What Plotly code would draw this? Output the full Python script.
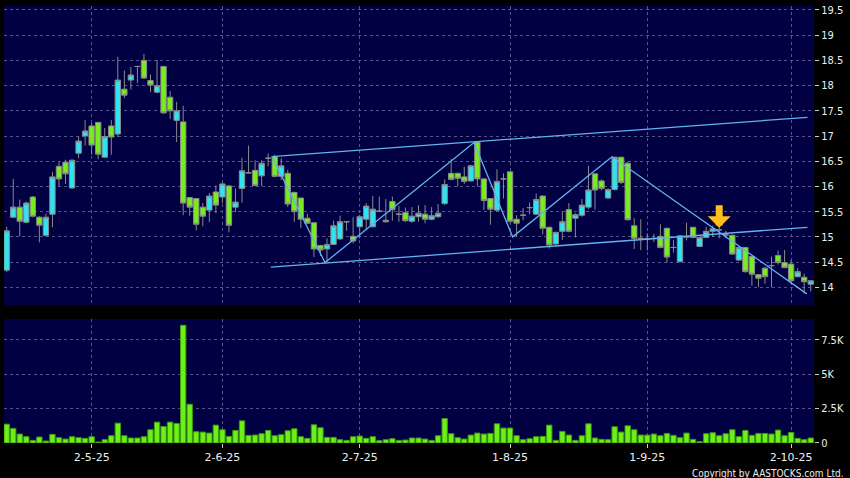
import plotly.graph_objects as go

# ---- data ----
opens = [14.34, 15.39, 15.59, 15.29, 15.79, 15.39, 15.03, 15.45, 16.40, 16.48,
         15.97, 16.66, 17.00, 17.20, 17.27, 16.58, 17.20, 17.04, 17.93, 18.11,
         18.38, 18.50, 18.10, 17.87, 18.38, 17.77, 17.31, 17.28, 15.78, 15.76,
         15.59, 15.53, 15.89, 15.79, 16.01, 15.59, 15.96, 16.27, 16.32, 16.21,
         16.56, 16.59, 16.20, 16.26, 15.88, 15.77, 15.37, 15.28, 14.83, 14.76,
         14.85, 14.96, 15.30, 15.01, 15.20, 15.35, 15.20, 15.51, 15.30, 15.70,
         15.45, 15.48, 15.31, 15.40, 15.45, 15.35, 15.40, 15.66, 16.26, 16.26,
         16.19, 16.11, 16.88, 16.15, 15.76, 15.53, 16.15, 16.29, 15.35, 15.43,
         15.58, 15.45, 15.81, 15.19, 14.86, 15.11, 15.54, 15.37, 15.43, 15.59,
         16.25, 16.11, 15.77, 15.94, 16.58, 16.46, 15.22, 14.97, 14.96, 14.97,
         15.01, 15.17, 14.79, 14.51, 15.00, 15.19, 14.81, 14.99, 15.11, 15.14,
         15.04, 15.03, 14.54, 14.79, 14.61, 14.25, 14.38, 14.43, 14.63, 14.49,
         14.46, 14.21, 14.20, 14.06]
highs = [15.20, 16.15, 15.74, 15.70, 15.81, 15.41, 15.46, 16.29, 16.48, 16.53,
         16.54, 16.99, 17.32, 17.26, 17.28, 17.16, 17.32, 18.57, 18.30, 18.37,
         18.39, 18.63, 18.22, 18.51, 18.38, 17.89, 17.68, 17.60, 15.78, 15.76,
         15.67, 15.87, 16.02, 16.08, 16.03, 15.96, 16.57, 16.81, 16.52, 16.52,
         16.65, 16.63, 16.56, 16.33, 15.90, 15.78, 15.46, 15.28, 14.84, 14.97,
         15.32, 15.42, 15.31, 15.39, 15.44, 15.67, 15.81, 15.80, 15.75, 15.80,
         15.62, 15.58, 15.59, 15.63, 15.63, 15.59, 15.65, 16.14, 16.54, 16.27,
         16.39, 16.43, 16.90, 16.16, 15.77, 16.34, 16.26, 16.30, 15.43, 15.57,
         15.68, 15.86, 15.82, 15.20, 15.10, 15.50, 15.67, 15.47, 15.75, 16.41,
         16.26, 16.14, 15.96, 16.59, 16.59, 16.49, 15.37, 15.35, 15.07, 15.06,
         15.25, 15.18, 14.94, 15.04, 15.28, 15.20, 15.00, 15.20, 15.22, 15.27,
         15.12, 15.05, 14.80, 14.80, 14.62, 14.26, 14.40, 14.61, 14.73, 14.74,
         14.54, 14.38, 14.27, 14.14]
lows = [14.30, 15.37, 15.01, 15.27, 15.39, 14.89, 15.01, 15.19, 16.00, 16.05,
        15.96, 16.56, 16.81, 16.63, 16.54, 16.58, 16.63, 16.98, 17.75, 17.92,
        18.05, 18.13, 17.87, 17.85, 17.44, 17.34, 16.88, 15.43, 15.42, 15.13,
        15.21, 15.29, 15.47, 15.67, 15.09, 15.49, 15.68, 16.26, 16.00, 16.01,
        16.40, 16.18, 16.13, 15.59, 15.30, 15.18, 15.26, 14.60, 14.62, 14.49,
        14.84, 14.94, 15.12, 14.87, 14.97, 15.14, 15.19, 15.49, 15.28, 15.32,
        15.30, 15.30, 15.28, 15.30, 15.27, 15.33, 15.38, 15.63, 16.12, 16.00,
        16.05, 16.10, 16.00, 15.53, 15.24, 15.50, 15.76, 15.27, 15.00, 15.33,
        15.45, 15.43, 15.05, 14.77, 14.84, 14.94, 15.09, 14.99, 15.40, 15.55,
        15.54, 15.92, 15.75, 15.92, 16.05, 15.32, 14.76, 14.74, 14.73, 14.90,
        14.77, 14.49, 14.69, 14.49, 14.93, 14.97, 14.80, 14.98, 15.00, 14.97,
        14.98, 14.64, 14.52, 14.29, 14.03, 14.00, 14.07, 14.00, 14.45, 14.38,
        14.07, 14.20, 13.88, 13.92]
closes = [15.12, 15.59, 15.31, 15.67, 15.41, 15.23, 15.39, 16.19, 16.15, 16.25,
          16.52, 16.90, 17.10, 16.82, 16.64, 16.99, 16.98, 18.11, 17.81, 18.21,
          18.38, 18.15, 18.01, 18.00, 17.46, 17.50, 17.50, 15.67, 15.59, 15.25,
          15.41, 15.81, 15.63, 16.05, 15.23, 15.69, 16.31, 16.27, 16.02, 16.46,
          16.56, 16.20, 16.41, 15.65, 15.50, 15.35, 15.27, 14.76, 14.74, 14.85,
          15.22, 15.30, 15.30, 14.92, 15.40, 15.61, 15.55, 15.51, 15.33, 15.54,
          15.45, 15.32, 15.41, 15.47, 15.35, 15.42, 15.47, 16.04, 16.14, 16.16,
          16.10, 16.41, 16.15, 15.72, 15.55, 16.10, 16.15, 15.31, 15.27, 15.43,
          15.58, 15.74, 15.17, 14.84, 15.09, 15.30, 15.11, 15.44, 15.63, 15.93,
          15.93, 15.96, 15.94, 16.58, 16.08, 15.34, 14.97, 14.97, 14.96, 14.97,
          14.79, 14.60, 14.79, 15.02, 15.00, 14.99, 14.99, 15.11, 15.16, 15.14,
          15.04, 14.66, 14.79, 14.31, 14.26, 14.18, 14.21, 14.43, 14.49, 14.39,
          14.13, 14.31, 14.11, 14.13]
volumes = [1370, 1058, 649, 457, 192, 433, 144, 625, 385, 288,
           457, 385, 337, 457, 72, 240, 529, 1442, 529, 361,
           361, 457, 962, 1515, 1202, 1515, 1418, 8550, 2813, 817,
           793, 721, 1298, 962, 481, 914, 1611, 553, 577, 673,
           914, 529, 601, 890, 1034, 457, 337, 1322, 1106, 409,
           409, 240, 192, 457, 505, 337, 457, 168, 240, 312,
           192, 216, 361, 361, 288, 192, 529, 1779, 673, 385,
           288, 577, 721, 649, 697, 1394, 1082, 1082, 529, 240,
           312, 457, 481, 1298, 192, 841, 577, 192, 529, 1394,
           361, 264, 240, 1178, 793, 1250, 962, 577, 577, 649,
           529, 697, 553, 385, 721, 264, 96, 673, 745, 529,
           673, 962, 457, 914, 553, 697, 697, 649, 938, 529,
           769, 337, 240, 361]
day_index = list(range(len(opens)))

tick_idx = [13, 33, 54, 77, 98, 120]
tick_text = ["2-5-25", "2-6-25", "2-7-25", "1-8-25", "1-9-25", "2-10-25"]
price_ticks = [14, 14.5, 15, 15.5, 16, 16.5, 17, 17.5, 18, 18.5, 19, 19.5]
vol_ticks = [0, 2500, 5000, 7500]
vol_tick_text = ["0", "2.5K", "5K", "7.5K"]

upper_channel_x = [40.5, 122.5]
upper_channel_y = [16.59, 17.37]
lower_channel_x = [40.4, 122.5]
lower_channel_y = [14.40, 15.19]
zigzag_x = [40.7, 48.7, 71.5, 77.4, 92.6, 122.4]
zigzag_y = [16.56, 14.49, 16.87, 15.00, 16.59, 13.87]
signal_idx = 109
signal_price = 15.18

# ---- styling ----
UP = "#2fe4f2"
DOWN = "#78ec1e"
EDGE = "#8a8a8a"
LINE = "#62b2ee"
GRID = "#55558a"
BG = "#000042"
TXT = "#eeeeee"
FONT = "DejaVu Sans"
CFONT = "DejaVu Sans Condensed, DejaVu Sans"

fig = go.Figure()

fig.add_trace(go.Candlestick(
    x=day_index, open=opens, high=highs, low=lows, close=closes,
    increasing=dict(fillcolor=UP, line=dict(color=EDGE, width=1)),
    decreasing=dict(fillcolor=DOWN, line=dict(color=EDGE, width=1)),
    whiskerwidth=0, showlegend=False, hoverinfo="skip",
    xaxis="x", yaxis="y"))

for xs, ys in [(upper_channel_x, upper_channel_y),
               (lower_channel_x, lower_channel_y),
               (zigzag_x, zigzag_y)]:
    fig.add_trace(go.Scatter(x=xs, y=ys, mode="lines",
                             line=dict(color=LINE, width=1.3),
                             showlegend=False, hoverinfo="skip",
                             xaxis="x", yaxis="y"))

fig.add_trace(go.Bar(
    x=day_index, y=volumes,
    marker=dict(color="#6cf01a", line=dict(color="#3f9a0c", width=1)),
    showlegend=False, hoverinfo="skip", xaxis="x2", yaxis="y2"))

fig.add_annotation(
    x=signal_idx, y=signal_price, xref="x", yref="y",
    showarrow=True, ax=0, ay=-24, arrowhead=1, arrowsize=0.55,
    arrowwidth=7, arrowcolor="#ffbf1a", text="")

fig.add_annotation(
    x=1, y=0, xref="paper", yref="paper", xanchor="right", yanchor="top",
    xshift=32, yshift=-23, showarrow=False,
    text="Copyright by AASTOCKS.com Ltd.",
    font=dict(family=CFONT, size=10, color=TXT))

xcommon = dict(range=[-0.41, 123.5], tickvals=tick_idx, showgrid=True,
               gridcolor=GRID, griddash="3px,3px", gridwidth=1, zeroline=False,
               showline=False, fixedrange=True)

fig.update_layout(
    width=850, height=478,
    margin=dict(l=4, r=36, t=6, b=35),
    paper_bgcolor="#000000", plot_bgcolor=BG,
    boxgap=0.18, boxgroupgap=0, bargap=0.18,
    font=dict(family=FONT, color=TXT, size=11),
    xaxis=dict(xcommon, anchor="y", showticklabels=False, ticks="",
               rangeslider=dict(visible=False), matches="x2"),
    xaxis2=dict(xcommon, anchor="y2", ticktext=tick_text, ticks="outside",
                ticklen=4, tickcolor="#cccccc", showticklabels=True,
                tickfont=dict(family=FONT, size=11, color=TXT)),
    yaxis=dict(domain=[0.3158, 1.0], range=[13.649, 19.579], side="right",
               tickvals=price_ticks, ticktext=[f"{v:g}" for v in price_ticks],
               ticks="outside", ticklen=4, tickcolor="#cccccc",
               showgrid=True, gridcolor=GRID, griddash="3px,3px", zeroline=False,
               tickfont=dict(family=CFONT, size=11, color=TXT),
               anchor="x", fixedrange=True),
    yaxis2=dict(domain=[0.0, 0.2838], range=[0, 9007], side="right",
                tickvals=vol_ticks, ticktext=vol_tick_text,
                ticks="outside", ticklen=4, tickcolor="#cccccc",
                showgrid=True, gridcolor=GRID, griddash="3px,3px", zeroline=False,
                tickfont=dict(family=CFONT, size=11, color=TXT),
                anchor="x2", fixedrange=True),
)

fig.write_html("out.html", config={"displayModeBar": False},
               post_script="document.body.style.margin='0';document.body.style.padding='0';document.body.style.background='#000';")
